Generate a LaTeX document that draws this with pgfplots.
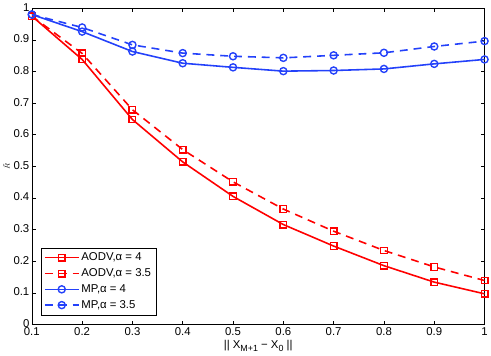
\documentclass[border=0pt]{standalone}
\usepackage{fontspec}
\setmainfont{Liberation Sans}
\usepackage{pgfplots}
\pgfplotsset{compat=1.18}
\definecolor{mred}{RGB}{255,0,0}
\definecolor{mblue}{RGB}{35,65,250}

\begin{document}
\begin{tikzpicture}
\begin{axis}[
  scale only axis, width=458pt, height=320pt,
  xmin=0.1, xmax=1, ymin=0, ymax=1,
  xtick={0.1,0.2,...,1.0}, ytick={0,0.1,...,1.0},
  xticklabels={0.1,0.2,0.3,0.4,0.5,0.6,0.7,0.8,0.9,1},
  yticklabels={0,0.1,0.2,0.3,0.4,0.5,0.6,0.7,0.8,0.9,1},
  tick align=inside, major tick length=4pt,
  tick style={black, line width=0.5pt},
  axis line style={line width=0.6pt},
  ticklabel style={font=\fontsize{11.5}{13}\selectfont},
  xticklabel style={yshift=0pt},
  yticklabel style={xshift=1pt, yshift=1pt},
  xlabel={|| X\raisebox{-0.6ex}{\fontsize{9}{10}\selectfont M+1} − X\raisebox{-0.6ex}{\fontsize{9}{10}\selectfont 0} ||},
  xlabel style={font=\fontsize{11.5}{13}\selectfont, yshift=3pt},
  ylabel={$\tilde{R}$},
  ylabel style={font=\scriptsize, yshift=-3pt},
  every axis plot/.append style={line width=1.6pt},
  legend style={at={(axis description cs:0.02,0.03)}, anchor=south west,
    font=\fontsize{11.5}{13}\selectfont, draw=black, line width=0.5pt,
    row sep=2.5pt, inner sep=3pt},
  legend cell align=left,
  legend image code/.code={
    \draw[mark repeat=2, mark phase=2] plot coordinates {(0cm,0cm) (0.6cm,0cm) (1.2cm,0cm)};},
]
\addplot[mred, mark=square, mark size=3.3pt, mark options={solid, line width=1.4pt}] coordinates {
 (0.1,0.975) (0.2,0.838) (0.3,0.648) (0.4,0.514) (0.5,0.405) (0.6,0.316)
 (0.7,0.248) (0.8,0.186) (0.9,0.134) (1.0,0.097)};
\addlegendentry{AODV,α = 4}
\addplot[mred, dash pattern=on 8pt off 6pt, mark=square, mark size=3.3pt, mark options={solid, line width=1.4pt}] coordinates {
 (0.1,0.975) (0.2,0.857) (0.3,0.679) (0.4,0.553) (0.5,0.451) (0.6,0.365)
 (0.7,0.295) (0.8,0.234) (0.9,0.182) (1.0,0.139)};
\addlegendentry{AODV,α = 3.5}
\addplot[mblue, mark=o, mark size=3.6pt, mark options={solid, line width=1.4pt}] coordinates {
 (0.1,0.980) (0.2,0.926) (0.3,0.863) (0.4,0.826) (0.5,0.813) (0.6,0.801)
 (0.7,0.803) (0.8,0.808) (0.9,0.824) (1.0,0.838)};
\addlegendentry{MP,α = 4}
\addplot[mblue, dash pattern=on 8pt off 6pt, mark=o, mark size=3.6pt, mark options={solid, line width=1.4pt}] coordinates {
 (0.1,0.980) (0.2,0.939) (0.3,0.884) (0.4,0.858) (0.5,0.848) (0.6,0.843)
 (0.7,0.851) (0.8,0.859) (0.9,0.879) (1.0,0.896)};
\addlegendentry{MP,α = 3.5}
\end{axis}
\end{tikzpicture}
\end{document}
